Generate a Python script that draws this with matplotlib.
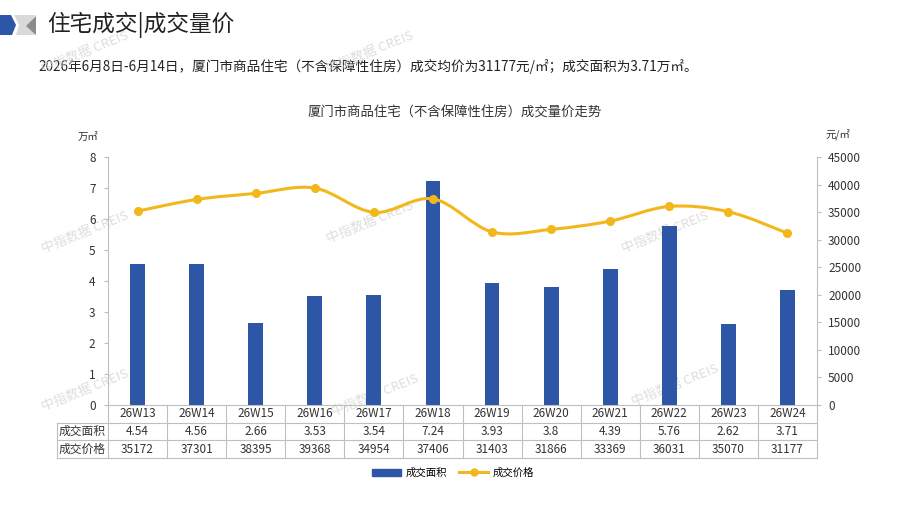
import matplotlib.pyplot as plt
import numpy as np
from matplotlib.path import Path
from matplotlib.patches import PathPatch, Polygon
from matplotlib.lines import Line2D
from matplotlib.transforms import blended_transform_factory

plt.rcParams['font.family'] = ['Noto Sans CJK SC', 'DejaVu Sans']

weeks = ['26W13', '26W14', '26W15', '26W16', '26W17', '26W18',
         '26W19', '26W20', '26W21', '26W22', '26W23', '26W24']
area = [4.54, 4.56, 2.66, 3.53, 3.54, 7.24, 3.93, 3.8, 4.39, 5.76, 2.62, 3.71]
price = [35172, 37301, 38395, 39368, 34954, 37406, 31403, 31866, 33369, 36031, 35070, 31177]
row_labels = ['成交面积', '成交价格']

BAR = '#2E56A6'
GOLD = '#F2B71B'
GRID = '#BFBFBF'
TXT = '#333333'

W, H = 897, 505
fig = plt.figure(figsize=(W / 100, H / 100), dpi=100)

# overlay in pixel coordinates for header and watermarks
deco = fig.add_axes([0, 0, 1, 1], zorder=0)
deco.set_xlim(0, W)
deco.set_ylim(H, 0)
deco.axis('off')
deco.add_patch(Polygon([(0, 15), (11, 15), (16, 25), (12, 35), (0, 35)], color='#2E56A6', lw=0))
deco.add_patch(Polygon([(14, 15), (36, 15), (27, 26), (36, 35), (16, 35), (19, 25)], color='#D9D9D9', lw=0))
deco.add_patch(Polygon([(36, 16), (36, 35), (26, 26)], color='#8C8C8C', lw=0))
deco.text(47, 25, '住宅成交|成交量价', fontsize=16.3, color='#222222', va='center', ha='left')
deco.text(38, 66, '2026年6月8日-6月14日，厦门市商品住宅（不含保障性住房）成交均价为31177元/㎡；成交面积为3.71万㎡。',
          fontsize=9.8, color='#222222', va='center', ha='left')
deco.text(455, 113, '厦门市商品住宅（不含保障性住房）成交量价走势', fontsize=9.6, color='#333333',
          va='center', ha='center')
for wx, wy in [(85, 52), (370, 52), (85, 232), (370, 222), (665, 232), (85, 390), (375, 395), (675, 385)]:
    deco.text(wx, wy, '中指数据 CREIS', fontsize=9.5, color='#D6D6D6', rotation=22,
              ha='center', va='center', alpha=0.8, zorder=5)

left, right = 108, 817
top, bottom = 157, 405
ax = fig.add_axes([left / W, 1 - bottom / H, (right - left) / W, (bottom - top) / H], zorder=2)
ax.patch.set_alpha(0)
ax2 = ax.twinx()

x = np.arange(len(weeks))
ax.bar(x, area, width=0.25, color=BAR, zorder=2)
ax.set_xlim(-0.5, len(weeks) - 0.5)
ax.set_ylim(0, 8)
ax.set_yticks(range(0, 9))
ax.set_xticks([])

# smooth price line drawn as Catmull-Rom bezier segments through the points
pts = np.column_stack([x, price]).astype(float)
ext = np.vstack([pts[0], pts, pts[-1]])
verts = [tuple(pts[0])]
codes = [Path.MOVETO]
for i in range(len(pts) - 1):
    p0, p1, p2, p3 = ext[i], ext[i + 1], ext[i + 2], ext[i + 3]
    c1 = p1 + (p2 - p0) / 6
    c2 = p2 - (p3 - p1) / 6
    verts += [tuple(c1), tuple(c2), tuple(p2)]
    codes += [Path.CURVE4] * 3
ax2.add_patch(PathPatch(Path(verts, codes), fill=False, edgecolor=GOLD, lw=2.2, zorder=3))
ax2.plot(x, price, 'o', color=GOLD, ms=5.5, zorder=4)
ax2.set_ylim(0, 45000)
ax2.set_yticks(range(0, 45001, 5000))

for a in (ax, ax2):
    a.spines['top'].set_visible(False)
    for s in a.spines.values():
        s.set_color(GRID)
    a.tick_params(axis='y', colors=GRID, labelcolor=TXT, labelsize=8.5, length=3)
ax2.spines['left'].set_visible(False)
ax2.spines['bottom'].set_visible(False)
ax.spines['right'].set_visible(False)
ax.tick_params(axis='y', pad=6)
ax2.tick_params(axis='y', pad=5)

ax.text(-0.028, 1.08, '万㎡', transform=ax.transAxes, fontsize=7.5, color=TXT, ha='center', va='center')
ax2.text(1.03, 1.09, '元/㎡', transform=ax.transAxes, fontsize=7.5, color=TXT, ha='center', va='center')

# data table under the axis
trans = blended_transform_factory(ax.transData, ax.transAxes)
rh = 17.7 / (bottom - top)
lab_left = -0.5 - 51 / ((right - left) / len(weeks))
n = len(weeks)
rows = [weeks, [f'{v:g}' for v in area], [str(v) for v in price]]
for r, vals in enumerate(rows):
    yc = -(r + 0.5) * rh
    for i, v in enumerate(vals):
        ax.text(i, yc, v, transform=trans, ha='center', va='center', fontsize=8.5, color=TXT)
    if r > 0:
        ax.text((lab_left - 0.5) / 2, yc, row_labels[r - 1], transform=trans, ha='center',
                va='center', fontsize=8.5, color=TXT)
for r in range(1, 4):
    ax.add_line(Line2D([lab_left, n - 0.5], [-r * rh, -r * rh], transform=trans, color=GRID, lw=0.8, clip_on=False))
for k in range(n + 1):
    ax.add_line(Line2D([k - 0.5, k - 0.5], [0, -3 * rh], transform=trans, color=GRID, lw=0.8, clip_on=False))
ax.add_line(Line2D([lab_left, lab_left], [-rh, -3 * rh], transform=trans, color=GRID, lw=0.8, clip_on=False))

# legend
handles = [plt.Rectangle((0, 0), 1, 1, color=BAR),
           Line2D([], [], color=GOLD, lw=2.2, marker='o', ms=5)]
fig.legend(handles, row_labels, loc='center', bbox_to_anchor=(0.505, 1 - 473 / H), ncol=2,
           frameon=False, fontsize=7.5, handlelength=2.8, columnspacing=1.2, handletextpad=0.4)

fig.savefig('out.png', dpi=100)
